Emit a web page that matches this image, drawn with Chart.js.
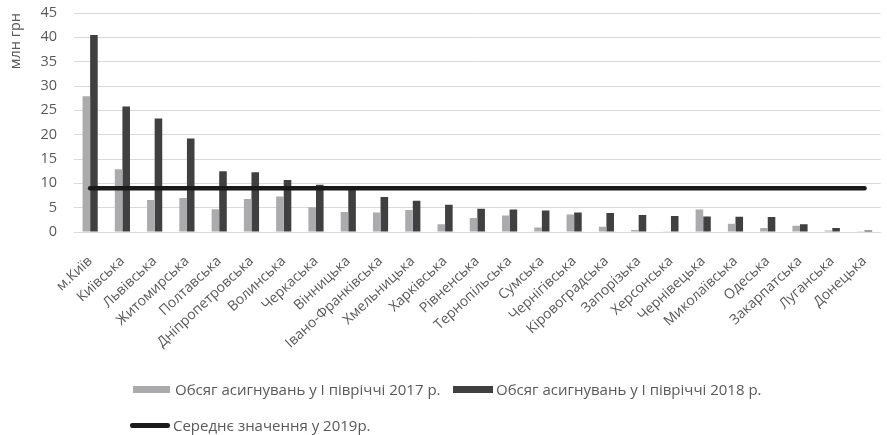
<!DOCTYPE html>
<html>
<head>
<meta charset="utf-8">
<script src="https://cdn.jsdelivr.net/npm/chart.js@4/dist/chart.umd.min.js"></script>
<style>
  html, body { margin: 0; padding: 0; background: #fff; }
  body { width: 887px; height: 435px; overflow: hidden; position: relative; }
  #wrap { position: absolute; left: 0; top: 0; width: 889px; height: 435px; }
  .leg { position: absolute; font-family: "Open Sans", sans-serif; font-size: 15px; color: #595959; white-space: nowrap; line-height: 18px; }
  .box { position: absolute; }
</style>
</head>
<body>
<div id="wrap"><canvas id="myChart" width="889" height="435"></canvas></div>
<div id="legend"></div>
<script>
// regions
const regions = ['м.Київ', 'Київська', 'Львівська', 'Житомирська', 'Полтавська', 'Дніпропетровська',
  'Волинська', 'Черкаська', 'Вінницька', 'Івано-Франківська', 'Хмельницька', 'Харківська',
  'Рівненська', 'Тернопільська', 'Сумська', 'Чернігівська', 'Кіровоградська', 'Запорізька',
  'Херсонська', 'Чернівецька', 'Миколаївська', 'Одеська', 'Закарпатська', 'Луганська', 'Донецька'];

// млн грн
const h1_2017 = [27.9, 12.9, 6.6, 7.0, 4.7, 6.8, 7.3, 5.1, 4.1, 4.0, 4.5, 1.6, 2.9, 3.4, 0.95, 3.6,
  1.1, 0.4, 0.15, 4.6, 1.7, 0.8, 1.3, 0.3, 0.05];
const h1_2018 = [40.5, 25.8, 23.3, 19.2, 12.5, 12.3, 10.7, 9.7, 9.3, 7.2, 6.4, 5.6, 4.8, 4.6, 4.4, 4.0,
  3.9, 3.5, 3.3, 3.2, 3.15, 3.1, 1.6, 0.8, 0.3];
const avg2019 = 9.0;

const seriesNames = ['Обсяг асигнувань у І півріччі 2017 р.', 'Обсяг асигнувань у І півріччі 2018 р.',
  'Середнє значення у 2019р.'];
const yTicks = [0, 5, 10, 15, 20, 25, 30, 35, 40, 45];
const yTitle = 'млн грн';

const textGray = '#595959';
const ctx = document.getElementById('myChart');
new Chart(ctx, {
  type: 'bar',
  data: {
    labels: regions,
    datasets: [
      { label: seriesNames[0], data: h1_2017, backgroundColor: '#ABABAE', order: 1,
        categoryPercentage: 0.47, barPercentage: 1 },
      { label: seriesNames[1], data: h1_2018, backgroundColor: '#404040', order: 1,
        categoryPercentage: 0.47, barPercentage: 1 },
      { type: 'line', label: seriesNames[2], data: regions.map(() => avg2019), borderColor: '#1A1A1A',
        borderWidth: 4.5, borderCapStyle: 'round', pointRadius: 0, order: 0 }
    ]
  },
  options: {
    responsive: false,
    animation: false,
    layout: { padding: { top: 13, right: 0, bottom: 0, left: 0 } },
    plugins: { legend: { display: false }, tooltip: { enabled: false } },
    scales: {
      x: {
        grid: { display: false },
        border: { display: true, color: '#D9D9D9' },
        ticks: { autoSkip: false, minRotation: 43, maxRotation: 43, color: textGray, padding: 13,
          font: { family: 'Open Sans', size: 14 } },
        afterFit: (s) => { s.height = 203; }
      },
      y: {
        min: 0, max: 45,
        afterBuildTicks: (s) => { s.ticks = yTicks.map(v => ({ value: v })); },
        grid: { color: '#D9D9D9', drawTicks: false },
        border: { display: false },
        ticks: { color: textGray, padding: 17, font: { family: 'Open Sans', size: 14.5 } },
        title: { display: true, text: yTitle, align: 'end', color: textGray, padding: { top: 7, bottom: 0 },
          font: { family: 'Open Sans', size: 14.5 } },
        // tick padding should not push the plot down
        afterFit: (s) => { s.width = 74; s.paddingTop = 9; s.paddingBottom = 0; }
      }
    }
  }
});

// legend (two rows like the original)
const leg = document.getElementById('legend');
function addBox(x, y, w, h, color, round) {
  const d = document.createElement('div');
  d.className = 'box';
  d.style.cssText = `left:${x}px;top:${y}px;width:${w}px;height:${h}px;background:${color};` +
    (round ? `border-radius:${h / 2}px;` : '');
  leg.appendChild(d);
}
function addText(x, yc, t) {
  const d = document.createElement('div');
  d.className = 'leg';
  d.style.left = x + 'px';
  d.style.top = (yc - 9) + 'px';
  d.textContent = t;
  leg.appendChild(d);
}
addBox(133, 386, 37, 7, '#ABABAE');
addText(175, 389, seriesNames[0]);
addBox(453, 386, 40, 7, '#404040');
addText(496, 389, seriesNames[1]);
addBox(130, 423, 40, 4.5, '#1A1A1A', true);
addText(173, 425, seriesNames[2]);
</script>
</body>
</html>
